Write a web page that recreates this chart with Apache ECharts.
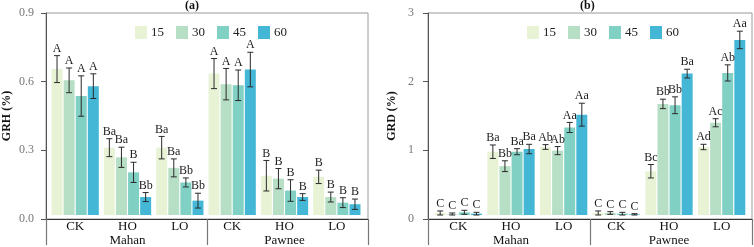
<!DOCTYPE html>
<html>
<head>
<meta charset="utf-8">
<script src="https://cdn.jsdelivr.net/npm/echarts@6/dist/echarts.min.js"></script>
<style>html,body{margin:0;padding:0;background:#fff}#c{width:754px;height:247px}</style>
</head>
<body>
<div id="c"></div>
<script>
// ---- data ----
const categories = ['CK', 'HO', 'LO', 'CK', 'HO', 'LO'];
const sites = ['Mahan', 'Pawnee'];
const depths = ['15', '30', '45', '60'];

// GRH (%) panel (a)
const grh15 = [0.65, 0.30, 0.30, 0.63, 0.175, 0.17];
const grh30 = [0.60, 0.257, 0.21, 0.583, 0.162, 0.08];
const grh45 = [0.53, 0.19, 0.145, 0.578, 0.109, 0.055];
const grh60 = [0.574, 0.08, 0.064, 0.648, 0.08, 0.048];
const grhErr15 = [0.06, 0.04, 0.05, 0.067, 0.068, 0.03];
const grhErr30 = [0.055, 0.045, 0.04, 0.07, 0.045, 0.022];
const grhErr45 = [0.09, 0.045, 0.02, 0.068, 0.048, 0.022];
const grhErr60 = [0.055, 0.02, 0.033, 0.077, 0.015, 0.023];
const grhLab15 = ['A', 'Ba', 'Ba', 'A', 'B', 'B'];
const grhLab30 = ['A', 'Ba', 'Ba', 'A', 'B', 'B'];
const grhLab45 = ['A', 'B', 'Bb', 'A', 'B', 'B'];
const grhLab60 = ['A', 'Bb', 'Bb', 'A', 'B', 'B'];
const grhTicks = [0, 0.3, 0.6, 0.9];

// GRD (%) panel (b)
const grd15 = [0.03, 0.94, 1.01, 0.03, 0.65, 1.01];
const grd30 = [0.01, 0.725, 0.956, 0.03, 1.65, 1.37];
const grd45 = [0.04, 0.94, 1.30, 0.02, 1.63, 2.11];
const grd60 = [0.02, 0.98, 1.49, 0.01, 2.10, 2.60];
const grdErr15 = [0.03, 0.10, 0.035, 0.03, 0.10, 0.04];
const grdErr30 = [0.02, 0.08, 0.06, 0.02, 0.07, 0.06];
const grdErr45 = [0.03, 0.045, 0.075, 0.02, 0.125, 0.12];
const grdErr60 = [0.02, 0.07, 0.17, 0.01, 0.065, 0.13];
const grdLab15 = ['C', 'Ba', 'Ab', 'C', 'Bc', 'Ad'];
const grdLab30 = ['C', 'Bb', 'Ab', 'C', 'Bb', 'Ac'];
const grdLab45 = ['C', 'Ba', 'Aa', 'C', 'Bb', 'Ab'];
const grdLab60 = ['C', 'Ba', 'Aa', 'C', 'Ba', 'Aa'];
const grdTicks = [0, 1, 2, 3];

// ---- style ----
const colors = ['#e8f3d6', '#b6dfc5', '#80d0c3', '#44b7d7'];
const FONT = 'Liberation Serif';
const BW = 11;
const GAP = 0.1;

const panels = [
  { vals: [grh15, grh30, grh45, grh60], errs: [grhErr15, grhErr30, grhErr45, grhErr60],
    labs: [grhLab15, grhLab30, grhLab45, grhLab60], ticks: grhTicks, name: 'GRH (%)', title: '(a)',
    frame: { left: 43, width: 325 }, bars: { left: 49, width: 314 }, legendLeft: 130, titleLeft: 185, dec: 1, nameGap: 33, labelMargin: 12 },
  { vals: [grd15, grd30, grd45, grd60], errs: [grdErr15, grdErr30, grdErr45, grdErr60],
    labs: [grdLab15, grdLab30, grdLab45, grdLab60], ticks: grdTicks, name: 'GRD (%)', title: '(b)',
    frame: { left: 428, width: 324 }, bars: { left: 432, width: 316 }, legendLeft: 522, titleLeft: 580, dec: 0, nameGap: 30, labelMargin: 14 }
];

const grid = [], xAxis = [], yAxis = [], series = [], legend = [], title = [];
panels.forEach((p, pi) => {
  const g0 = grid.length;
  grid.push({ left: p.frame.left, width: p.frame.width, top: 13, height: 206, show: true, borderColor: '#9a9a9a', borderWidth: 1, containLabel: false });
  grid.push({ left: p.bars.left, width: p.bars.width, top: 13, height: 206 });
  const ymin = p.ticks[0], ymax = p.ticks[p.ticks.length - 1], yint = p.ticks[1] - p.ticks[0];
  // frame axes
  const xf = xAxis.length;
  xAxis.push({ gridIndex: g0, type: 'value', min: 0, max: 1, interval: 0.5, position: 'bottom',
    axisLine: { show: true, lineStyle: { color: '#333', width: 1 } },
    axisTick: { show: true, length: 26, lineStyle: { color: '#777', width: 1.2 } },
    axisLabel: { show: false }, splitLine: { show: false } });
  const xc = xAxis.length;
  xAxis.push({ gridIndex: g0 + 1, type: 'category', data: categories, position: 'bottom',
    axisLine: { show: false }, axisTick: { show: false },
    axisLabel: { margin: 5, fontSize: 13, color: '#111', fontFamily: FONT } });
  xAxis.push({ gridIndex: g0 + 1, type: 'category', data: sites, position: 'bottom',
    axisLine: { show: false }, axisTick: { show: false },
    axisLabel: { margin: 19, fontSize: 13, color: '#111', fontFamily: FONT } });
  const yf = yAxis.length;
  yAxis.push({ gridIndex: g0, type: 'value', min: ymin, max: ymax, interval: yint,
    name: p.name, nameLocation: 'middle', nameGap: p.nameGap, nameRotate: 90,
    nameTextStyle: { fontFamily: FONT, fontWeight: 'bold', fontSize: 12, color: '#111' },
    axisLine: { show: true, lineStyle: { color: '#555' } },
    axisTick: { show: true, length: 5, lineStyle: { color: '#555' } },
    axisLabel: { margin: p.labelMargin, fontSize: 12, color: '#777', fontFamily: FONT,
      formatter: v => v.toFixed(p.dec) },
    splitLine: { show: false } });
  const yb = yAxis.length;
  yAxis.push({ gridIndex: g0 + 1, type: 'value', min: ymin, max: ymax, interval: yint, show: false });

  depths.forEach((d, di) => {
    series.push({ type: 'bar', name: d, xAxisIndex: xc, yAxisIndex: yb, data: p.vals[di],
      barWidth: BW, barGap: (GAP * 100) + '%', itemStyle: { color: colors[di] }, silent: true });
  });
  depths.forEach((d, di) => {
    const labs = p.labs[di];
    series.push({ type: 'custom', name: d + '_err', xAxisIndex: xc, yAxisIndex: yb, silent: true, z: 5,
      data: p.vals[di].map((v, i) => [i, v, p.errs[di][i]]),
      renderItem: (params, api) => {
        const i = api.value(0), v = api.value(1), e = api.value(2);
        const off = (di - 1.5) * BW * (1 + GAP);
        const top = api.coord([i, v + e]);
        const bot = api.coord([i, Math.max(v - e, 0)]);
        const x = top[0] + off;
        const ls = { stroke: '#2a2a2a', lineWidth: 1 };
        return { type: 'group', children: [
          { type: 'line', shape: { x1: x, y1: top[1], x2: x, y2: bot[1] }, style: ls },
          { type: 'line', shape: { x1: x - 3, y1: top[1], x2: x + 3, y2: top[1] }, style: ls },
          { type: 'line', shape: { x1: x - 3, y1: bot[1], x2: x + 3, y2: bot[1] }, style: ls },
          { type: 'text', style: { x: x, y: top[1] - 1, text: labs[params.dataIndex], fill: '#222',
            font: '12px "' + FONT + '"', textAlign: 'center', textVerticalAlign: 'bottom' } }
        ] };
      } });
  });
  legend.push({ data: depths, left: p.legendLeft, top: 21, itemWidth: 12, itemHeight: 13, itemGap: 12,
    icon: 'rect', textStyle: { fontFamily: FONT, fontSize: 13, color: '#222', padding: [0, 0, 0, -1] }, selectedMode: false });
  title.push({ text: p.title, left: p.titleLeft, top: 0, padding: 0,
    textStyle: { fontFamily: FONT, fontWeight: 'bold', fontSize: 12, color: '#111' } });
});

const chart = echarts.init(document.getElementById('c'), null, { renderer: 'canvas' });
chart.setOption({ animation: false, backgroundColor: '#fff', grid, xAxis, yAxis, series, legend, title });
</script>
</body>
</html>
